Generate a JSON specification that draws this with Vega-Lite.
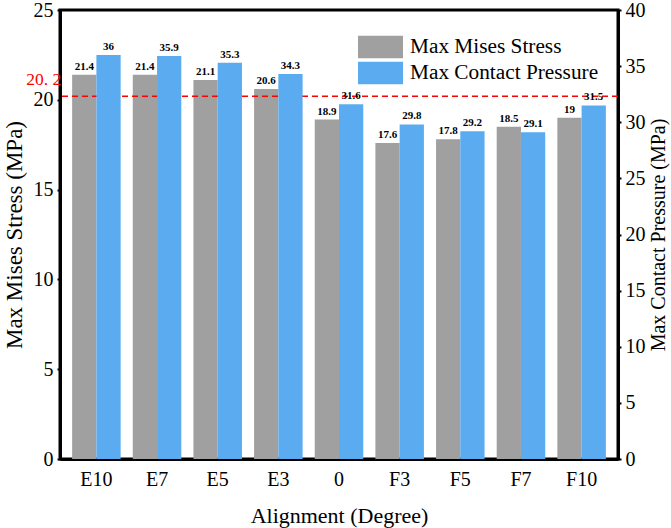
{
  "$schema": "https://vega.github.io/schema/vega-lite/v6.json",
  "width": 558,
  "height": 449,
  "autosize": {"type": "none"},
  "padding": {"left": 60, "top": 10, "right": 53, "bottom": 69},
  "background": "white",
  "data": {
    "values": [
      {"Alignment": "E10", "Series": "Max Mises Stress", "Value": 21.4},
      {"Alignment": "E7", "Series": "Max Mises Stress", "Value": 21.4},
      {"Alignment": "E5", "Series": "Max Mises Stress", "Value": 21.1},
      {"Alignment": "E3", "Series": "Max Mises Stress", "Value": 20.6},
      {"Alignment": "0", "Series": "Max Mises Stress", "Value": 18.9},
      {"Alignment": "F3", "Series": "Max Mises Stress", "Value": 17.6},
      {"Alignment": "F5", "Series": "Max Mises Stress", "Value": 17.8},
      {"Alignment": "F7", "Series": "Max Mises Stress", "Value": 18.5},
      {"Alignment": "F10", "Series": "Max Mises Stress", "Value": 19},
      {"Alignment": "E10", "Series": "Max Contact Pressure", "Value": 36},
      {"Alignment": "E7", "Series": "Max Contact Pressure", "Value": 35.9},
      {"Alignment": "E5", "Series": "Max Contact Pressure", "Value": 35.3},
      {"Alignment": "E3", "Series": "Max Contact Pressure", "Value": 34.3},
      {"Alignment": "0", "Series": "Max Contact Pressure", "Value": 31.6},
      {"Alignment": "F3", "Series": "Max Contact Pressure", "Value": 29.8},
      {"Alignment": "F5", "Series": "Max Contact Pressure", "Value": 29.2},
      {"Alignment": "F7", "Series": "Max Contact Pressure", "Value": 29.1},
      {"Alignment": "F10", "Series": "Max Contact Pressure", "Value": 31.5}
    ]
  },
  "layer": [
    {
      "layer": [
        {
          "transform": [{"filter": "datum.Series == 'Max Mises Stress'"}],
          "mark": {"type": "bar"},
          "encoding": {
            "x": {
              "field": "Alignment",
              "type": "nominal",
              "scale": {"domain": ["E10", "E7", "E5", "E3", "0", "F3", "F5", "F7", "F10"]},
              "axis": {"title": "Alignment (Degree)"}
            },
            "xOffset": {"field": "Series", "type": "nominal", "scale": {"domain": ["Max Mises Stress", "Max Contact Pressure"]}},
            "y": {
              "field": "Value",
              "type": "quantitative",
              "scale": {"domain": [0, 25], "nice": false},
              "axis": {
                "orient": "left",
                "title": "Max Mises Stress (MPa)",
                "values": [0, 5, 10, 15, 20, 25],
                "titleFontSize": 23,
                "titlePadding": 7
              }
            },
            "color": {
              "field": "Series",
              "type": "nominal",
              "scale": {"domain": ["Max Mises Stress", "Max Contact Pressure"], "range": ["#a0a0a0", "#5aabf0"]},
              "legend": {
                "title": null,
                "orient": "none",
                "legendX": 298,
                "legendY": 24,
                "labelFont": "Liberation Serif",
                "labelFontSize": 21.3,
                "labelColor": "black",
                "labelLimit": 400,
                "labelOffset": 7,
                "symbolType": "M-1,-0.5H1V0.5H-1Z",
                "symbolSize": 2025,
                "symbolStrokeWidth": 0,
                "symbolOpacity": 1,
                "clipHeight": 26,
                "rowPadding": 0
              }
            }
          }
        },
        {
          "transform": [{"filter": "datum.Series == 'Max Mises Stress'"}],
          "mark": {"type": "text", "baseline": "bottom", "dy": -3, "fontSize": 11, "fontWeight": "bold", "color": "black"},
          "encoding": {
            "x": {"field": "Alignment", "type": "nominal"},
            "xOffset": {"field": "Series", "type": "nominal"},
            "y": {"field": "Value", "type": "quantitative", "scale": {"domain": [0, 25], "nice": false}},
            "text": {"field": "Value", "type": "nominal"}
          }
        },
        {
          "data": {"values": [{"limit": 20.2}]},
          "mark": {"type": "rule", "color": "red", "strokeWidth": 1.5, "strokeDash": [6, 4]},
          "encoding": {
            "y": {"field": "limit", "type": "quantitative", "scale": {"domain": [0, 25], "nice": false}}
          }
        },
        {
          "data": {"values": [{"limit": 20.2, "label": "20. 2", "at": "E10"}]},
          "mark": {"type": "text", "align": "right", "baseline": "middle", "dx": -11, "dy": -16, "fontSize": 17.5, "color": "red"},
          "encoding": {
            "x": {"field": "at", "type": "nominal", "bandPosition": 0},
            "y": {"field": "limit", "type": "quantitative", "scale": {"domain": [0, 25], "nice": false}},
            "text": {"field": "label", "type": "nominal"}
          }
        }
      ]
    },
    {
      "layer": [
        {
          "transform": [{"filter": "datum.Series == 'Max Contact Pressure'"}],
          "mark": {"type": "bar"},
          "encoding": {
            "x": {"field": "Alignment", "type": "nominal"},
            "xOffset": {"field": "Series", "type": "nominal"},
            "y": {
              "field": "Value",
              "type": "quantitative",
              "scale": {"domain": [0, 40], "nice": false},
              "axis": {
                "orient": "right",
                "title": "Max Contact Pressure (MPa)",
                "values": [0, 5, 10, 15, 20, 25, 30, 35, 40],
                "titleFontSize": 20,
                "titleAngle": 270,
                "titleBaseline": "top",
                "titlePadding": 3
              }
            },
            "color": {"field": "Series", "type": "nominal"}
          }
        },
        {
          "transform": [{"filter": "datum.Series == 'Max Contact Pressure'"}],
          "mark": {"type": "text", "baseline": "bottom", "dy": -3, "fontSize": 11, "fontWeight": "bold", "color": "black"},
          "encoding": {
            "x": {"field": "Alignment", "type": "nominal"},
            "xOffset": {"field": "Series", "type": "nominal"},
            "y": {"field": "Value", "type": "quantitative"},
            "text": {"field": "Value", "type": "nominal"}
          }
        }
      ]
    }
  ],
  "resolve": {"scale": {"y": "independent"}},
  "config": {
    "font": "Liberation Serif",
    "view": {"stroke": "black", "strokeWidth": 3},
    "scale": {"bandPaddingInner": 0.2, "bandPaddingOuter": 0.1},
    "axis": {
      "grid": false,
      "domainColor": "black",
      "domainWidth": 3,
      "tickColor": "black",
      "tickSize": 3,
      "tickWidth": 2,
      "labelFont": "Liberation Serif",
      "titleFont": "Liberation Serif",
      "labelFontSize": 20,
      "labelColor": "black",
      "labelPadding": 4,
      "titleFontWeight": "normal",
      "titleColor": "black"
    },
    "axisX": {
      "labelAngle": 0,
      "ticks": false,
      "labelPadding": 10,
      "titleFontSize": 22,
      "titlePadding": 16
    }
  }
}
